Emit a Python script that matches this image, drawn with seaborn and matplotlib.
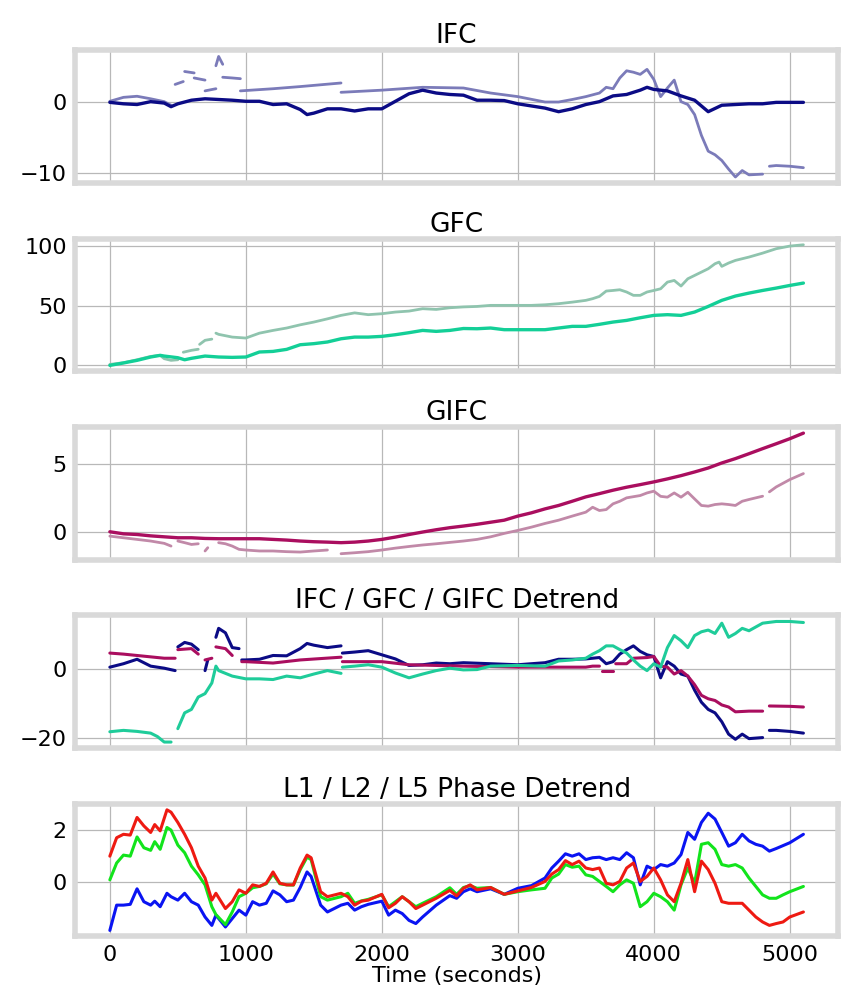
"""
IFC / GFC / GIFC and phase detrend panels over one pass (5 stacked axes).
"""

import numpy as np
import pandas as pd
import matplotlib
matplotlib.use("Agg")
import matplotlib.pyplot as plt
import seaborn as sns

nan = np.nan

# ---- IFC ----
ifc_t = [0, 100, 200, 300, 400, 450, 500, 600, 700, 800, 900, 1000, 1100, 1200, 1300, 1400,
         1450, 1500, 1600, 1700, 1800, 1900, 2000, 2100, 2200, 2300, 2400, 2500, 2600, 2700,
         2800, 2900, 3000, 3100, 3200, 3300, 3400, 3500, 3600, 3700, 3800, 3900, 3950, 4000,
         4100, 4200, 4300, 4400, 4500, 4600, 4700, 4800, 4900, 5000, 5100]
ifc = [-0.1, -0.3, -0.4, 0.0, -0.2, -0.7, -0.3, 0.2, 0.4, 0.3, 0.2, 0.05, 0.05, -0.4, -0.3, -1.1,
       -1.8, -1.6, -1.0, -1.0, -1.3, -1.0, -1.0, 0.05, 1.1, 1.6, 1.2, 1.0, 0.9, 0.2,
       0.2, 0.15, -0.3, -0.6, -0.9, -1.4, -1.0, -0.4, 0.0, 0.8, 1.0, 1.6, 2.0, 1.7,
       1.5, 0.8, 0.2, -1.4, -0.5, -0.4, -0.3, -0.3, -0.1, -0.1, -0.1]

ifc_raw_t = [0, 100, 200, 300, 400, 450, nan, 480, 540, nan, 550, 620, nan, 620, 700, nan,
             700, 780, nan, 780, 800, 830, nan, 830, 900, 960, nan, 960, 1200, 1400, 1700, nan,
             1700, 2000, 2300, 2600, 2800, 3000, 3200, 3300, 3400, 3500, 3600, 3650, 3700,
             3750, 3800, 3850, 3900, 3950, 4000, 4050, 4100, 4150, 4200, 4250, 4300, 4350,
             4400, 4450, 4500, 4550, 4600, 4650, 4700, 4800, nan, 4850, 4900, 5000, 5100]
ifc_raw = [0.05, 0.6, 0.75, 0.4, 0.0, -0.5, nan, 2.4, 2.8, nan, 4.2, 4.0, nan, 3.3, 3.0, nan,
           1.5, 1.8, nan, 5.0, 6.3, 5.2, nan, 3.4, 3.3, 3.2, nan, 1.5, 1.8, 2.1, 2.6, nan,
           1.3, 1.6, 2.0, 1.9, 1.2, 0.7, -0.05, -0.05, 0.3, 0.7, 1.2, 2.0, 1.8,
           3.3, 4.3, 4.1, 3.8, 4.5, 3.1, 0.7, 1.9, 3.0, 0.0, -0.4, -1.8, -4.7,
           -6.9, -7.4, -8.2, -9.4, -10.5, -9.6, -10.2, -10.1, nan, -9.0, -8.9, -9.0, -9.2]

# ---- GFC ----
gfc_t = [0, 100, 200, 300, 370, 400, 500, 550, 600, 700, 800, 900, 1000, 1100, 1200, 1300,
         1400, 1500, 1600, 1700, 1800, 1900, 2000, 2100, 2200, 2300, 2400, 2500, 2600, 2700,
         2800, 2900, 3000, 3100, 3200, 3300, 3400, 3500, 3600, 3700, 3800, 3900, 4000, 4100,
         4200, 4300, 4400, 4500, 4600, 4700, 4800, 4900, 5000, 5100]
gfc = [0, 2, 4.2, 7, 8.4, 7.8, 6.4, 4.7, 5.9, 7.8, 7, 6.7, 7, 11.2, 11.7, 13.4,
       17.3, 18.2, 19.6, 22.3, 23.7, 23.7, 24.3, 25.7, 27.4, 29.3, 28.5, 29.3, 30.9, 30.7,
       31.3, 29.9, 29.9, 29.9, 29.9, 31.3, 32.7, 32.7, 34.4, 36.3, 37.7, 39.9, 41.9, 42.5,
       41.9, 44.7, 49.4, 54.5, 58.1, 60.6, 62.8, 64.8, 67, 69]

gfc_raw_t = [0, 100, 200, 300, 370, 400, 450, 500, nan, 540, 600, 650, nan, 660, 700, 750,
             nan, 780, 800, 900, 1000, 1100, 1200, 1300, 1400, 1500, 1600, 1700, 1800, 1900,
             2000, 2100, 2200, 2300, 2400, 2500, 2600, 2700, 2800, 2900, 3000, 3100, 3200,
             3300, 3400, 3500, 3550, 3600, 3650, 3700, 3750, 3800, 3850, 3900, 3950, 4000,
             4050, 4100, 4150, 4200, 4250, 4300, 4350, 4400, 4450, 4480, 4500, 4550, 4600,
             4700, 4800, 4900, 5000, 5100]
gfc_raw = [0.8, 2.2, 4.7, 7.5, 8.4, 5.6, 4.2, 4.7, nan, 11, 12.6, 13.5, nan, 17.6, 21, 22,
           nan, 27, 26, 23.7, 22.9, 27, 29.3, 31.3, 34, 36.3, 39, 41.9, 44, 42.5,
           43.3, 44.7, 45.5, 47.5, 46.9, 48.3, 49, 49.4, 50.3, 50.3, 50.3, 50.3, 50.8,
           51.7, 53, 54.5, 55.9, 57.8, 62.3, 62.8, 63.4, 61.5, 58.7, 58.7, 61.5, 62.8,
           64.2, 69.8, 71.2, 66.5, 72.6, 75.4, 78.2, 81, 85.2, 86.6, 83, 85.8, 88,
           90.8, 94.1, 97.8, 100, 101.1]

# ---- GIFC ----
gifc_t = [0, 100, 200, 300, 400, 500, 600, 700, 800, 900, 1000, 1100, 1200, 1300, 1400, 1500,
          1600, 1700, 1800, 1900, 2000, 2100, 2200, 2300, 2400, 2500, 2600, 2700, 2800, 2900,
          3000, 3100, 3200, 3300, 3400, 3500, 3600, 3700, 3800, 3900, 4000, 4100, 4200, 4300,
          4400, 4500, 4600, 4700, 4800, 4900, 5000, 5100]
gifc = [0, -0.15, -0.2, -0.3, -0.37, -0.44, -0.44, -0.49, -0.51, -0.51, -0.51, -0.51, -0.56,
        -0.61, -0.68, -0.73, -0.76, -0.8, -0.76, -0.68, -0.56, -0.39, -0.2, -0.02, 0.15, 0.3,
        0.42, 0.55, 0.7, 0.85, 1.15, 1.39, 1.68, 1.93, 2.24, 2.56, 2.8, 3.05, 3.27, 3.46, 3.66,
        3.88, 4.12, 4.39, 4.68, 5.05, 5.37, 5.73, 6.1, 6.46, 6.83, 7.24]

gifc_raw_t = [0, 100, 200, 300, 400, 450, nan, 500, 550, 600, 650, nan, 700, 720, nan, 800,
              850, 900, 950, 1000, 1100, 1200, 1300, 1400, 1500, 1600, nan, 1700, 1800, 1900,
              2000, 2100, 2200, 2300, 2400, 2500, 2600, 2700, 2800, 2900, 3000, 3100, 3200,
              3300, 3400, 3500, 3550, 3600, 3650, 3700, 3750, 3800, 3900, 3950, 4000, 4050,
              4100, 4150, 4200, 4250, 4300, 4350, 4400, 4450, 4500, 4550, 4600, 4650, 4700,
              4800, nan, 4850, 4900, 5000, 5100]
gifc_raw = [-0.32, -0.44, -0.56, -0.68, -0.85, -1.05, nan, -0.68, -0.8, -0.93, -0.88, nan,
            -1.41, -1.17, nan, -0.8, -0.88, -1.05, -1.29, -1.34, -1.41, -1.41, -1.46, -1.49,
            -1.41, -1.34, nan, -1.61, -1.54, -1.46, -1.34, -1.2, -1.08, -0.97, -0.88, -0.78,
            -0.68, -0.56, -0.37, -0.12, 0.1, 0.34, 0.61, 0.85, 1.15, 1.44, 1.8, 1.56, 1.63,
            2.05, 2.24, 2.49, 2.66, 2.85, 2.98, 2.6, 2.54, 2.85, 2.54, 2.9, 2.41, 1.93, 1.88,
            2.0, 2.05, 2.0, 1.93, 2.24, 2.37, 2.61, nan, 2.93, 3.29, 3.83, 4.27]

# ---- IFC / GFC / GIFC detrend ----
ifc_dt_t = [0, 100, 200, 250, 300, 400, 480, nan, 500, 550, 600, 650, nan, 700, 720, nan,
            780, 800, 850, 900, 950, nan, 970, 1000, 1100, 1200, 1300, 1400, 1450, 1500, 1600,
            1700, nan, 1710, 1800, 1900, 2000, 2100, 2200, 2300, 2400, 2500, 2600, 2800, 3000,
            3100, 3200, 3300, 3400, 3500, 3550, 3600, 3650, 3700, 3750, 3800, 3850, 3900, 3950,
            4000, 4050, 4100, 4150, 4200, 4250, 4300, 4350, 4400, 4450, 4500, 4550, 4600, 4650,
            4700, 4800, nan, 4850, 4900, 5000, 5100]
ifc_dt = [0.5, 1.5, 2.8, 1.8, 0.8, 0.2, -0.5, nan, 6.4, 7.7, 7.2, 5.6, nan, -0.5, 2.6, nan,
          9.2, 11.8, 10.5, 6.2, 5.9, nan, 2.6, 2.6, 2.8, 3.9, 3.8, 5.9, 7.4, 6.9, 6.2,
          6.7, nan, 4.6, 4.9, 5.3, 4.1, 2.9, 1.0, 1.2, 1.7, 1.5, 1.8, 1.5, 1.2,
          1.5, 1.8, 2.8, 2.8, 2.9, 3.1, 3.3, 1.5, 2.1, 4.3, 5.6, 6.7, 5.1, 4.1,
          3.6, -2.6, 2.1, 0.8, -1.5, -2.1, -6.2, -9.7, -11.8, -12.8, -15.4, -19, -20.5, -19,
          -20.3, -20, nan, -17.9, -17.9, -18.2, -18.7]

gifc_dt_t = [0, 100, 200, 300, 400, 480, nan, 500, 600, 650, nan, 700, 750, nan, 780, 850,
             900, nan, 970, 1000, 1200, 1400, 1700, nan, 1710, 2000, 2200, 2600, 3000, 3200,
             3400, 3500, 3550, 3600, nan, 3620, 3700, nan, 3720, 3800, 3850, 3950, 4000, 4050,
             4100, 4150, 4200, 4250, 4300, 4350, 4400, 4450, 4500, 4550, 4600, 4700, 4800,
             nan, 4850, 5000, 5100]
gifc_dt = [4.6, 4.3, 3.9, 3.5, 3.1, 3.1, nan, 5.6, 5.9, 4.3, nan, 2.6, 3.1, nan, 6.4, 5.9,
           3.9, nan, 2.1, 2.1, 1.7, 2.6, 3.4, nan, 2.1, 2.1, 1.2, 0.8, 0.5, 0.5,
           0.5, 0.5, 0.8, 0.8, nan, -0.5, -0.5, nan, 1.5, 1.5, 3.1, 3.3, 3.6, 0.8,
           0.5, -1.5, -0.5, -2.1, -4.6, -7.7, -8.7, -9.2, -10.5, -11.1, -12.5, -12.3, -12.3,
           nan, -10.8, -10.9, -11.1]

gfc_dt_t = [0, 100, 200, 300, 350, 400, 450, nan, 500, 550, 600, 650, 700, 750, 780, 800,
            850, 900, 1000, 1100, 1200, 1300, 1400, 1500, 1600, 1700, nan, 1710, 1800, 1900,
            2000, 2100, 2200, 2300, 2400, 2500, 2600, 2700, 2800, 3000, 3200, 3300, 3400, 3500,
            3550, 3600, 3650, 3700, 3750, 3800, 3850, 3900, 3950, 4000, 4050, 4100, 4150, 4200,
            4250, 4300, 4350, 4400, 4450, 4500, 4550, 4600, 4650, 4700, 4800, 4900, 5000, 5100]
gfc_dt = [-18.3, -17.9, -18.2, -18.7, -19.7, -21.3, -21.3, nan, -17.4, -12.8, -11.8, -8.2,
          -7.2, -4.1, 0.8, -0.5, -1.3, -2.1, -2.9, -2.9, -3.1, -2.1, -2.6, -1.5, -0.5, -1.3,
          nan, 0.5, 0.8, 1.2, 0.5, -1.2, -2.6, -1.5, -0.5, 0.2, -0.3, -0.2, 0.8, 1.0, 0.8,
          2.3, 2.6, 3.1, 4.3, 5.3, 6.7, 6.7, 5.6, 4.6, 2.6, 0.8, -0.5, 1.5, 0.5, 6.2, 9.7,
          8.2, 6.2, 9.7, 10.8, 11.3, 10.3, 13.3, 9.2, 10.3, 11.8, 11.1, 13.3, 13.8, 13.8, 13.5]

# ---- L1 / L2 / L5 phase detrend ----
ph_t = [0, 50, 100, 150, 200, 250, 300, 330, 370, 420, 450, 500, 550, 600, 650, 700, 750, 780,
        850, 900, 950, 1000, 1050, 1100, 1150, 1200, 1250, 1300, 1350, 1400, 1450, 1480, 1550,
        1600, 1700, 1750, 1800, 1850, 1900, 2000, 2050, 2100, 2150, 2200, 2250, 2300, 2400,
        2500, 2550, 2600, 2650, 2700, 2800, 2900, 3000, 3100, 3200, 3250, 3300, 3350, 3400,
        3450, 3500, 3550, 3600, 3650, 3700, 3750, 3800, 3850, 3900, 3950, 4000, 4050, 4100,
        4150, 4200, 4250, 4300, 4350, 4400, 4450, 4500, 4550, 4600, 4650, 4700, 4750, 4800,
        4850, 4900, 4950, 5000, 5100]
l1 = [-1.82, -0.86, -0.86, -0.83, -0.24, -0.73, -0.86, -0.71, -0.92, -0.41, -0.54, -0.67,
      -0.41, -0.73, -0.86, -1.31, -1.63, -1.24, -1.69, -1.37, -1.05, -1.24, -0.73, -0.86,
      -0.79, -0.32, -0.47, -0.73, -0.67, -0.19, 0.4, 0.23, -0.86, -1.12, -0.86, -0.79, -1.05,
      -0.92, -0.83, -0.71, -1.24, -1.05, -1.18, -1.44, -1.56, -1.31, -0.86, -0.5, -0.6,
      -0.35, -0.24, -0.35, -0.24, -0.45, -0.22, -0.12, 0.17, 0.55, 0.81, 1.09, 1.0, 1.09,
      0.87, 0.94, 0.96, 0.87, 0.94, 0.87, 1.13, 0.94, -0.09, 0.62, 0.49, 0.68, 0.62, 0.74,
      1.06, 1.9, 1.64, 2.28, 2.63, 2.41, 1.9, 1.38, 1.51, 1.83, 1.58, 1.45, 1.38, 1.19, 1.29,
      1.4, 1.51, 1.83]
l2 = [0.1, 0.74, 1.04, 1.0, 1.73, 1.32, 1.22, 1.55, 1.26, 2.09, 1.99, 1.42, 1.13, 0.62, 0.29,
      -0.09, -0.92, -1.22, -1.6, -1.12, -0.54, -0.41, -0.2, -0.15, -0.05, 0.32, -0.05, -0.09,
      -0.1, 0.49, 0.96, 0.87, -0.54, -0.67, -0.54, -0.41, -0.79, -0.7, -0.64, -0.47, -0.92,
      -0.73, -0.54, -0.73, -0.92, -0.79, -0.54, -0.2, -0.45, -0.19, -0.12, -0.22, -0.19,
      -0.45, -0.35, -0.28, -0.22, 0.17, 0.32, 0.68, 0.58, 0.62, 0.29, 0.23, 0.04, -0.15,
      -0.35, -0.09, 0.1, -0.03, -0.92, -0.73, -0.41, -0.54, -0.73, -1.05, -0.09, 0.55, -0.03,
      1.45, 1.51, 1.26, 0.68, 0.62, 0.68, 0.55, 0.17, -0.15, -0.47, -0.6, -0.6, -0.47, -0.35,
      -0.15]
l5 = [1.0, 1.7, 1.83, 1.8, 2.47, 2.15, 1.9, 2.2, 1.96, 2.76, 2.67, 2.28, 1.83, 1.32, 0.62,
      0.17, -0.67, -0.41, -0.99, -0.73, -0.28, -0.41, -0.09, -0.15, -0.03, 0.4, -0.03, -0.09,
      -0.09, 0.55, 1.04, 0.94, -0.35, -0.54, -0.41, -0.54, -0.86, -0.71, -0.67, -0.45, -0.96,
      -0.79, -0.54, -0.73, -0.99, -0.86, -0.6, -0.3, -0.51, -0.22, -0.09, -0.28, -0.19, -0.45,
      -0.32, -0.19, 0.04, 0.32, 0.49, 0.83, 0.68, 0.81, 0.55, 0.49, 0.55, -0.03, -0.09, 0.04,
      0.55, 0.74, 0.04, 0.23, 0.55, 0.1, -0.47, -0.73, -0.03, 0.87, -0.35, 0.81, 0.49, -0.03,
      -0.73, -0.79, -0.79, -0.79, -1.05, -1.31, -1.5, -1.63, -1.56, -1.5, -1.31, -1.12]

panel_titles = ["IFC", "GFC", "GIFC", "IFC / GFC / GIFC Detrend", "L1 / L2 / L5 Phase Detrend"]
panel_yticks = [[-10, 0], [0, 50, 100], [0, 5], [-20, 0], [0, 2]]


def draw(ax, t, v, color, lw=2.4):
    df = pd.DataFrame({"t": t, "v": v})
    # each NaN starts a new piece so jumps are not joined
    df["seg"] = df["v"].isna().cumsum()
    df = df.dropna()
    sns.lineplot(data=df, x="t", y="v", units="seg", estimator=None, sort=False,
                 color=color, lw=lw, ax=ax, legend=False)


sns.set_style("whitegrid")
plt.rcParams["font.family"] = ["DejaVu Sans"]
plt.rcParams.update({"text.color": "black", "axes.labelcolor": "black",
                     "xtick.color": "black", "ytick.color": "black"})

fig, axes = plt.subplots(5, 1, figsize=(8.64, 10.08), dpi=100, sharex=True)
fig.subplots_adjust(left=0.087, right=0.970, top=0.950, bottom=0.071, hspace=0.42)

draw(axes[0], ifc_raw_t, ifc_raw, "#7b7bb9", lw=2.0)
draw(axes[0], ifc_t, ifc, "#0b0b85")

draw(axes[1], gfc_raw_t, gfc_raw, "#8fc4ae", lw=2.0)
draw(axes[1], gfc_t, gfc, "#13cf97")

draw(axes[2], gifc_raw_t, gifc_raw, "#c189a8", lw=2.0)
draw(axes[2], gifc_t, gifc, "#aa0e5f")

draw(axes[3], ifc_dt_t, ifc_dt, "#0b0b85", lw=2.2)
draw(axes[3], gifc_dt_t, gifc_dt, "#aa0e5f", lw=2.2)
draw(axes[3], gfc_dt_t, gfc_dt, "#1fcc9a", lw=2.2)

draw(axes[4], ph_t, l1, "#0a14f2", lw=2.2)
draw(axes[4], ph_t, l2, "#12e41c", lw=2.2)
draw(axes[4], ph_t, l5, "#ee1a12", lw=2.2)

for ax, title, yt in zip(axes, panel_titles, panel_yticks):
    ax.set_title(title, fontsize=19, pad=5, color="black")
    ax.set_yticks(yt)
    ax.set_ylabel("")
    ax.set_xlabel("")
    ax.grid(True, color="#b8b8b8", linewidth=0.9)
    ax.tick_params(labelsize=16, length=0, pad=6, colors="black")
    for sp in ax.spines.values():
        sp.set_color("#d9d9d9")
        sp.set_linewidth(4)

axes[-1].set_xticks([0, 1000, 2000, 3000, 4000, 5000])
axes[-1].set_xlabel("Time (seconds)", fontsize=16, labelpad=1, color="black")

plt.savefig("out.png", dpi=100)
plt.close()
